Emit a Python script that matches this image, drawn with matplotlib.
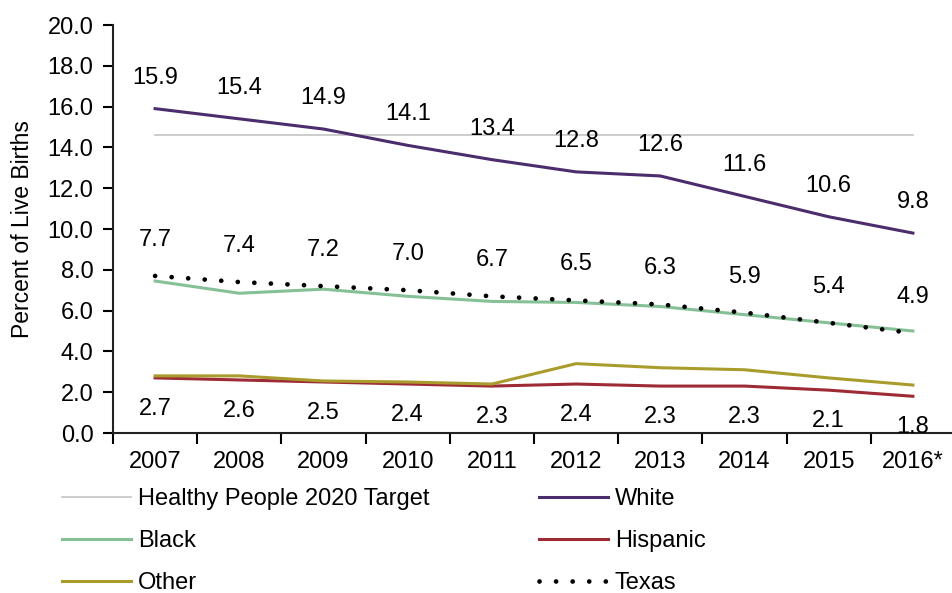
import matplotlib
matplotlib.use("Agg")
import matplotlib.pyplot as plt
from matplotlib.ticker import FixedLocator, NullFormatter

plt.rcParams['font.family'] = ['Liberation Sans', 'DejaVu Sans']

# --- dados ---
anos = ["2007", "2008", "2009", "2010", "2011", "2012", "2013", "2014", "2015", "2016*"]
white = [15.9, 15.4, 14.9, 14.1, 13.4, 12.8, 12.6, 11.6, 10.6, 9.8]
black = [7.45, 6.85, 7.05, 6.7, 6.45, 6.4, 6.2, 5.8, 5.4, 5.0]
hispanic = [2.7, 2.6, 2.5, 2.4, 2.3, 2.4, 2.3, 2.3, 2.1, 1.8]
other = [2.8, 2.8, 2.55, 2.5, 2.4, 3.4, 3.2, 3.1, 2.7, 2.35]
texas = [7.7, 7.4, 7.2, 7.0, 6.7, 6.5, 6.3, 5.9, 5.4, 4.9]
meta_hp2020 = 14.6

x = list(range(len(anos)))
fs = 17

fig = plt.figure(figsize=(9.52, 5.93), dpi=100)
ax = fig.add_axes([113 / 952, 160 / 593, 842 / 952, 408 / 593])

l_meta, = ax.plot(x, [meta_hp2020] * len(x), color="#c4c4c4", lw=1.2,
                  label="Healthy People 2020 Target")
l_white, = ax.plot(x, white, color="#4b2c6c", lw=2.2, label="White")
l_black, = ax.plot(x, black, color="#86c096", lw=2.2, label="Black")
l_hisp, = ax.plot(x, hispanic, color="#9e2a36", lw=2.2, label="Hispanic")
l_other, = ax.plot(x, other, color="#a99c2c", lw=2.2, label="Other")
l_tx, = ax.plot(x, texas, color="black", lw=3.4, ls=(0, (0.01, 3.5)),
                dash_capstyle="round", label="Texas")

# rótulos dos dados
for xi, v in zip(x, white):
    ax.annotate(f"{v:.1f}", (xi, v), xytext=(0, 31), textcoords="offset pixels",
                ha="center", va="center", fontsize=fs)
for xi, v in zip(x, texas):
    ax.annotate(f"{v:.1f}", (xi, v), xytext=(0, 36), textcoords="offset pixels",
                ha="center", va="center", fontsize=fs)
for xi, v in zip(x, hispanic):
    ax.annotate(f"{v:.1f}", (xi, v), xytext=(0, -31), textcoords="offset pixels",
                ha="center", va="center", fontsize=fs)

ax.set_xlim(-0.5, 9.5)
ax.set_ylim(0, 20)
ax.set_yticks([i * 2.0 for i in range(11)])
ax.set_yticklabels([f"{i * 2.0:.1f}" for i in range(11)], fontsize=fs)
ax.set_ylabel("Percent of Live Births", fontsize=16.5)
ax.yaxis.set_label_coords(-0.094, 0.5)

# ticks do eixo x nas fronteiras, rótulos no centro
ax.xaxis.set_major_locator(FixedLocator([i - 0.5 for i in range(11)]))
ax.xaxis.set_major_formatter(NullFormatter())
ax.xaxis.set_minor_locator(FixedLocator(x))
ax.set_xticklabels(anos, minor=True, fontsize=fs)
ax.tick_params(axis="x", which="major", length=8, width=1.5, direction="out")
ax.tick_params(axis="x", which="minor", length=0, pad=13)
ax.tick_params(axis="y", length=7, width=1.5, direction="out", pad=7)

for s in ["top", "right"]:
    ax.spines[s].set_visible(False)
for s in ["left", "bottom"]:
    ax.spines[s].set_linewidth(1.5)
    ax.spines[s].set_color("#222222")

fig.legend(handles=[l_meta, l_black, l_other, l_white, l_hisp, l_tx],
           loc="upper left", bbox_to_anchor=(41 / 952, 1 - 467 / 593),
           ncol=2, frameon=False, fontsize=fs, handlelength=2.9,
           handletextpad=0.3, columnspacing=4.65, labelspacing=0.85)

fig.savefig("out.png", dpi=100)
